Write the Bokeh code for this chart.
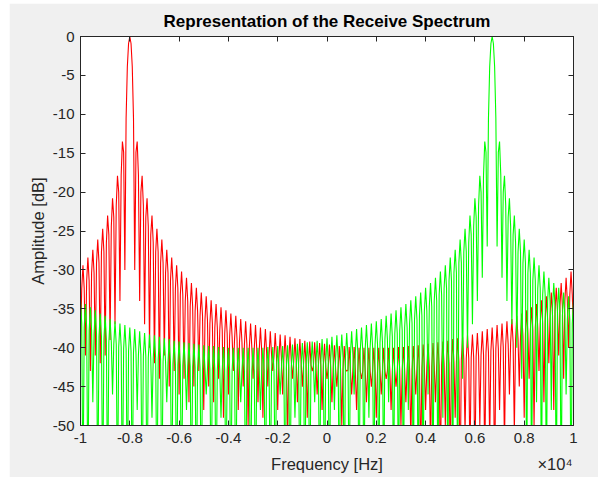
from bokeh.plotting import figure
from bokeh.models import FixedTicker, LinearAxis, Range1d
from bokeh.embed import file_html
from bokeh.resources import INLINE

# ---------------- data ----------------
freq_hz = list(range(-10000, 10001, 50))

red_db = [
    -40, -32.4, -29.4, -32.4,
    -41, -31.4, -28.4, -31.4,
    -43, -30.4, -27.4, -30.4,
    -41, -29.1, -26.1, -29.1,
    -42, -27.7, -24.7, -27.7,
    -41, -26.5, -23.0, -25.5,
    -39, -24.4, -20.8, -23.2,
    -37, -21.7, -17.9, -20.0,
    -34, -17.8, -13.5, -14.9,
    -30, -10.5, -3.9, -0.9,
    0, -0.9, -3.9, -10.5,
    -30, -14.9, -13.5, -17.8,
    -34, -20.0, -17.9, -21.7,
    -37, -23.2, -20.8, -24.4,
    -40, -25.5, -23.0, -26.5,
    -42, -27.7, -24.7, -27.7,
    -44, -29.1, -26.1, -29.1,
    -41, -30.4, -27.4, -30.4,
    -45, -31.4, -28.4, -31.4,
    -43, -32.4, -29.4, -32.4,
    -46, -33.2, -30.2, -33.2,
    -44, -34.0, -31.0, -34.0,
    -47, -34.7, -31.7, -34.7,
    -45, -35.3, -32.3, -35.3,
    -43, -35.9, -32.9, -35.9,
    -48, -36.4, -33.4, -36.4,
    -45, -36.9, -33.9, -36.9,
    -47, -37.4, -34.4, -37.4,
    -44, -37.8, -34.8, -37.8,
    -49, -38.2, -35.2, -38.2,
    -46, -38.6, -35.6, -38.6,
    -43, -38.9, -35.9, -38.9,
    -48, -39.3, -36.3, -39.3,
    -45, -39.6, -36.6, -39.6,
    -50, -39.9, -36.9, -39.9,
    -44, -40.1, -37.1, -40.1,
    -47, -40.4, -37.4, -40.4,
    -49, -40.6, -37.6, -40.6,
    -45, -40.9, -37.9, -40.9,
    -43, -41.1, -38.1, -41.1,
    -48, -41.3, -38.3, -41.3,
    -46, -41.4, -38.4, -41.4,
    -52, -41.6, -38.6, -41.6,
    -44, -41.8, -38.8, -41.8,
    -47, -41.9, -38.9, -41.9,
    -45, -42.1, -39.1, -42.1,
    -49, -42.2, -39.2, -42.2,
    -43, -42.3, -39.3, -42.3,
    -46, -42.4, -39.4, -42.4,
    -48, -42.5, -39.5, -42.5,
    -44, -42.6, -39.6, -42.6,
    -47, -42.7, -39.7, -42.7,
    -45, -42.8, -39.8, -42.8,
    -50, -42.8, -39.8, -42.8,
    -43, -42.9, -39.9, -42.9,
    -46, -42.9, -39.9, -42.9,
    -48, -43.0, -40.0, -43.0,
    -44, -43.0, -40.0, -43.0,
    -47, -43.0, -40.0, -43.0,
    -45, -43.0, -40.0, -43.0,
    -49, -43.0, -40.0, -43.0,
    -46, -43.0, -40.0, -43.0,
    -44, -43.0, -40.0, -43.0,
    -48, -43.0, -40.0, -43.0,
    -45, -42.9, -39.9, -42.9,
    -50, -42.9, -39.9, -42.9,
    -47, -42.8, -39.8, -42.8,
    -52, -42.8, -39.8, -42.8,
    -46, -42.7, -39.7, -42.7,
    -55, -42.6, -39.6, -42.6,
    -48, -42.5, -39.5, -42.5,
    -53, -42.4, -39.4, -42.4,
    -47, -42.3, -39.3, -42.3,
    -56, -42.2, -39.2, -42.2,
    -50, -42.1, -39.1, -42.1,
    -55, -41.9, -38.9, -41.9,
    -49, -41.8, -38.8, -41.8,
    -58, -41.6, -38.6, -41.6,
    -51, -41.4, -38.4, -41.4,
    -55, -41.3, -38.3, -41.3,
    -57, -41.1, -38.1, -41.1,
    -50, -40.9, -37.9, -40.9,
    -55, -40.6, -37.6, -40.6,
    -52, -40.4, -37.4, -40.4,
    -58, -40.1, -37.1, -40.1,
    -48, -39.9, -36.9, -39.9,
    -53, -39.6, -36.6, -39.6,
    -46, -39.3, -36.3, -39.3,
    -51, -38.9, -35.9, -38.9,
    -45, -38.6, -35.6, -38.6,
    -49, -38.2, -35.2, -38.2,
    -44, -37.8, -34.8, -37.8,
    -50, -37.4, -34.4, -37.4,
    -43, -36.9, -33.9, -36.9,
    -47, -36.4, -33.4, -36.4,
    -42, -35.9, -32.9, -35.9,
    -48, -35.3, -32.3, -35.3,
    -41, -34.7, -31.7, -34.7,
    -44, -34.0, -31.0, -34.0,
    -40, -33.2, -30.2, -33.2,
    -38,
]

green_db = [
    -33.9, -36.9, -60, -37.4,
    -34.4, -37.4, -60, -37.8,
    -34.8, -37.8, -47, -38.2,
    -35.2, -38.2, -60, -38.6,
    -35.6, -38.6, -60, -38.9,
    -35.9, -38.9, -60, -39.3,
    -36.3, -39.3, -46, -39.6,
    -36.6, -39.6, -60, -39.9,
    -36.9, -39.9, -60, -40.1,
    -37.1, -40.1, -60, -40.4,
    -37.4, -40.4, -60, -40.6,
    -37.6, -40.6, -48, -40.9,
    -37.9, -40.9, -60, -41.1,
    -38.1, -41.1, -60, -41.3,
    -38.3, -41.3, -49, -41.4,
    -38.4, -41.4, -60, -41.6,
    -38.6, -41.6, -60, -41.8,
    -38.8, -41.8, -47, -41.9,
    -38.9, -41.9, -60, -42.1,
    -39.1, -42.1, -60, -42.2,
    -39.2, -42.2, -60, -42.3,
    -39.3, -42.3, -48, -42.4,
    -39.4, -42.4, -60, -42.5,
    -39.5, -42.5, -60, -42.6,
    -39.6, -42.6, -60, -42.7,
    -39.7, -42.7, -46, -42.8,
    -39.8, -42.8, -60, -42.8,
    -39.8, -42.8, -60, -42.9,
    -39.9, -42.9, -49, -42.9,
    -39.9, -42.9, -60, -43.0,
    -40.0, -43.0, -60, -43.0,
    -40.0, -43.0, -60, -43.0,
    -40.0, -43.0, -47, -43.0,
    -40.0, -43.0, -60, -43.0,
    -40.0, -43.0, -60, -43.0,
    -40.0, -43.0, -60, -43.0,
    -40.0, -43.0, -48, -43.0,
    -40.0, -43.0, -60, -42.9,
    -39.9, -42.9, -60, -42.9,
    -39.9, -42.9, -60, -42.8,
    -39.8, -42.8, -46, -42.8,
    -39.8, -42.8, -60, -42.7,
    -39.7, -42.7, -60, -42.6,
    -39.6, -42.6, -49, -42.5,
    -39.5, -42.5, -60, -42.4,
    -39.4, -42.4, -60, -42.3,
    -39.3, -42.3, -60, -42.2,
    -39.2, -42.2, -47, -42.1,
    -39.1, -42.1, -60, -41.9,
    -38.9, -41.9, -60, -41.8,
    -38.8, -41.8, -60, -41.6,
    -38.6, -41.6, -48, -41.4,
    -38.4, -41.4, -60, -41.3,
    -38.3, -41.3, -60, -41.1,
    -38.1, -41.1, -60, -40.9,
    -37.9, -40.9, -46, -40.6,
    -37.6, -40.6, -60, -40.4,
    -37.4, -40.4, -60, -40.1,
    -37.1, -40.1, -49, -39.9,
    -36.9, -39.9, -60, -39.6,
    -36.6, -39.6, -60, -39.3,
    -36.3, -39.3, -60, -38.9,
    -35.9, -38.9, -47, -38.6,
    -35.6, -38.6, -60, -38.2,
    -35.2, -38.2, -60, -37.8,
    -34.8, -37.8, -60, -37.4,
    -34.4, -37.4, -48, -36.9,
    -33.9, -36.9, -60, -36.4,
    -33.4, -36.4, -60, -35.9,
    -32.9, -35.9, -60, -35.3,
    -32.3, -35.3, -46, -34.7,
    -31.7, -34.7, -60, -34.0,
    -31.0, -34.0, -60, -33.2,
    -30.2, -33.2, -49, -32.4,
    -29.4, -32.4, -60, -31.4,
    -28.4, -31.4, -60, -30.4,
    -27.4, -30.4, -60, -29.1,
    -26.1, -29.1, -44, -27.7,
    -24.7, -27.7, -40, -26.5,
    -23.0, -25.5, -37, -24.4,
    -20.8, -23.2, -34, -21.7,
    -17.9, -20.0, -31, -17.8,
    -13.5, -14.9, -27, -10.5,
    -3.9, -0.9, 0, -0.9,
    -3.9, -10.5, -27, -14.9,
    -13.5, -17.8, -31, -20.0,
    -17.9, -21.7, -34, -23.2,
    -20.8, -24.4, -37, -25.5,
    -23.0, -26.5, -40, -27.7,
    -24.7, -27.7, -44, -29.1,
    -26.1, -29.1, -60, -30.4,
    -27.4, -30.4, -60, -31.4,
    -28.4, -31.4, -47, -32.4,
    -29.4, -32.4, -60, -33.2,
    -30.2, -33.2, -60, -34.0,
    -31.0, -34.0, -48, -34.7,
    -31.7, -34.7, -60, -35.3,
    -32.3, -35.3, -60, -35.9,
    -32.9, -35.9, -46, -36.4,
    -33.4, -36.4, -60, -36.9,
    -33.9,
]

x_ticks = [-10000, -8000, -6000, -4000, -2000, 0, 2000, 4000, 6000, 8000, 10000]
x_tick_labels = ["-1", "-0.8", "-0.6", "-0.4", "-0.2", "0", "0.2", "0.4", "0.6", "0.8", "1"]
y_ticks = [0, -5, -10, -15, -20, -25, -30, -35, -40, -45, -50]
y_tick_labels = ["0", "-5", "-10", "-15", "-20", "-25", "-30", "-35", "-40", "-45", "-50"]

title_text = "Representation of the Receive Spectrum"
x_label = "Frequency [Hz]"
y_label = "Amplitude [dB]"
x_exponent = "\u00d710\u2074"

# ---------------- figure ----------------
FONT = "Liberation Sans"
AX = "#262626"

p = figure(width=589, height=474, output_backend="svg", toolbar_location=None,
           x_range=Range1d(-10000, 10000), y_range=Range1d(-50, 0),
           min_border_left=71, min_border_right=25, min_border_top=33,
           min_border_bottom=52,
           background_fill_color="white", border_fill_color="#f0f0f0")
p.margin = (3, 1, 0, 9)
p.grid.visible = False
p.outline_line_color = AX
p.outline_line_width = 1

p.title.text = title_text
p.title.align = "center"
p.title.text_font = FONT
p.title.text_font_size = "17px"
p.title.text_font_style = "bold"
p.title.text_color = "black"
p.title.standoff = 12

for ax, ticks, labels in ((p.xaxis[0], x_ticks, x_tick_labels),
                          (p.yaxis[0], y_ticks, y_tick_labels)):
    ax.ticker = FixedTicker(ticks=ticks)
    ax.major_label_overrides = {t: l for t, l in zip(ticks, labels)}
    ax.major_tick_in = 5
    ax.major_tick_out = 0
    ax.minor_tick_in = 0
    ax.minor_tick_out = 0
    ax.axis_line_color = AX
    ax.major_tick_line_color = AX
    ax.major_label_text_font = FONT
    ax.major_label_text_font_size = "15px"
    ax.major_label_text_color = AX

p.xaxis.major_label_standoff = 7
p.yaxis.major_label_standoff = 6
p.yaxis.axis_label = y_label
p.yaxis.axis_label_text_font = FONT
p.yaxis.axis_label_text_font_size = "16.5px"
p.yaxis.axis_label_text_font_style = "normal"
p.yaxis.axis_label_text_color = AX
p.yaxis.axis_label_standoff = 3

# second row under the x axis: the axis title and the x10^4 exponent on one line
label_row = LinearAxis(
    ticker=FixedTicker(ticks=[0, x_ticks[-1] - 750]),
    major_label_overrides={0: x_label, x_ticks[-1] - 750: x_exponent},
    major_tick_in=0, major_tick_out=0, minor_tick_in=0, minor_tick_out=0,
    axis_line_color=None, major_tick_line_color=None,
    major_label_standoff=9, major_label_text_font=FONT,
    major_label_text_font_size="16.5px", major_label_text_color=AX)
p.add_layout(label_row, "below")

# box-style tick marks on the right and top
right = LinearAxis(ticker=FixedTicker(ticks=y_ticks), major_tick_in=5, major_tick_out=0,
                   minor_tick_in=0, minor_tick_out=0, axis_line_color=AX,
                   major_tick_line_color=AX, major_label_standoff=0)
right.major_label_overrides = {t: "" for t in y_ticks}
p.add_layout(right, "right")

top = LinearAxis(ticker=FixedTicker(ticks=x_ticks), major_tick_in=5, major_tick_out=0,
                 minor_tick_in=0, minor_tick_out=0, axis_line_color=AX,
                 major_tick_line_color=AX, major_label_standoff=0)
top.major_label_overrides = {t: "" for t in x_ticks}
p.add_layout(top, "above")

p.line(freq_hz, red_db, line_color="#ff0000", line_width=1.1)
p.line(freq_hz, green_db, line_color="#00ff00", line_width=1.1)

open("out.html", "w").write(file_html(p, INLINE))
